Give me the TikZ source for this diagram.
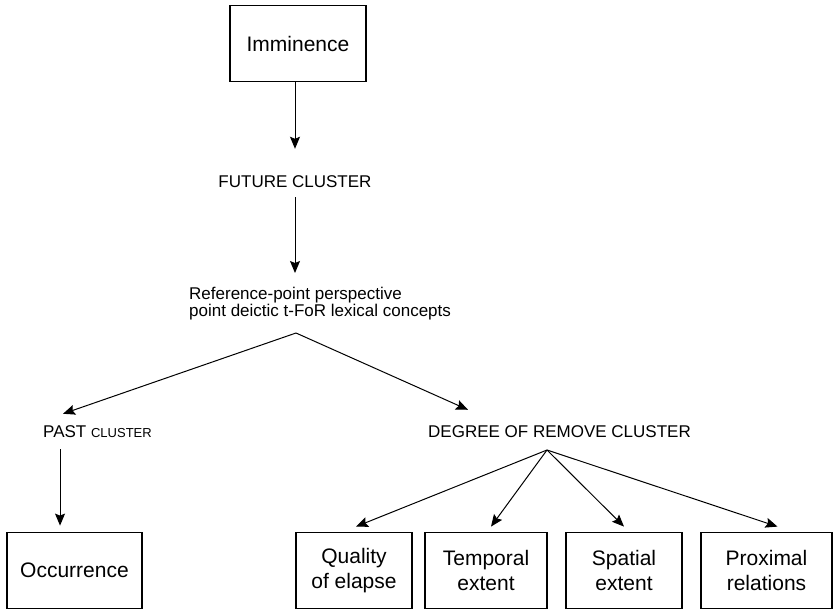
\documentclass[tikz,border=0pt]{standalone}
\usepackage{fontspec}
\setmainfont{Liberation Sans}
\usetikzlibrary{arrows.meta}
\begin{document}
\begin{tikzpicture}[x=1pt,y=-1pt,
  arr/.style={-{Stealth[length=12pt,width=10pt,inset=2pt]}, line width=1pt},
  box/.style={draw, line width=1.3pt, minimum height=76.5pt, inner sep=0pt,
    align=center, font=\fontsize{21}{25}\selectfont},
  lab/.style={inner sep=0pt, font=\fontsize{17}{17}\selectfont}]
\useasboundingbox (0,0) rectangle (833,610);

% concept boxes and cluster labels
\node[box, minimum width=136pt] (imm) at (298,43.5) {Imminence};
\node[lab] (fut) at (295,182) {FUTURE CLUSTER};
\node[lab, align=left, anchor=north west] (ref) at (189,287)
  {Reference-point perspective\\point deictic t-FoR lexical concepts};
\coordinate (apex) at (296,333);
\node[lab] (past) at (97.5,432) {PAST {\fontsize{13}{14}\selectfont CLUSTER}};
\node[lab] (deg) at (559.5,432) {DEGREE OF REMOVE CLUSTER};
\coordinate (dapex) at (547,450);

\node[box, minimum width=135pt] (occ) at (74.5,570.5) {Occurrence};
\node[box, minimum width=116pt] (qual) at (354,570.5) {Quality\\of elapse};
\node[box, minimum width=122pt] (temp) at (486,570.5) {Temporal\\extent};
\node[box, minimum width=116pt] (spat) at (624,570.5) {Spatial\\extent};
\node[box, minimum width=131pt] (prox) at (766.5,570.5) {Proximal\\relations};

% connectors
\draw[arr] (imm.south -| fut) -- ([yshift=27pt]fut.north);
\draw[arr, shorten <=9pt, shorten >=14pt] (fut.south) -- (fut.south |- ref.north);
\draw[arr] (apex) -- ([xshift=20pt,yshift=12pt]past.north west);
\draw[arr] (apex) -- ([xshift=40pt,yshift=16pt]deg.north west);
\coordinate (pastout) at ([xshift=17pt,yshift=-11pt]past.south west);
\draw[arr, shorten >=6pt] (pastout) -- (pastout |- occ.north);
\draw[arr] (dapex) -- ([xshift=2pt,yshift=5pt]qual.north);
\draw[arr] (dapex) -- ([xshift=5pt,yshift=5pt]temp.north);
\draw[arr] (dapex) -- ([yshift=5pt]spat.north);
\draw[arr] (dapex) -- ([xshift=11pt,yshift=5pt]prox.north);
\end{tikzpicture}
\end{document}
